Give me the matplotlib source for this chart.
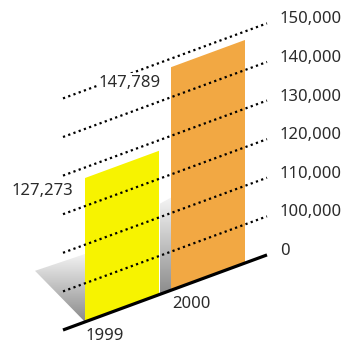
import numpy as np
import matplotlib
matplotlib.use('Agg')
import matplotlib.pyplot as plt
from matplotlib.transforms import Affine2D
from matplotlib.patches import Polygon

# data
years = ['1999', '2000']
values = [127273, 147789]
value_labels = ['127,273', '147,789']
tick_values = [0, 100000, 110000, 120000, 130000, 140000, 150000]
tick_labels = ['0', '100,000', '110,000', '120,000', '130,000', '140,000', '150,000']
colors = ['#f7f300', '#f2a843']

plt.rcParams['font.family'] = ['Noto Sans', 'DejaVu Sans']
txt_col = '#2b2b2b'


def level(v):
    # broken axis: 0 -> 0, 100,000 -> 1, then one step per 10,000
    if v < 100000:
        return v / 100000
    return 1 + (v - 100000) / 10000


fig = plt.figure(figsize=(3.46, 3.42), dpi=100)
ax = fig.add_axes([0, 0, 1, 1])
ax.set_xlim(0, 346)
ax.set_ylim(342, 0)
ax.axis('off')

# skewed front plane: u along the base line, v in levels
plane = Affine2D([[1, 0, 63], [-0.368, -38.6, 330], [0, 0, 1]])
tr = plane + ax.transData

bar_left = [22, 108]
bar_w = 74


def shade(pts, c_top, c_bot):
    pix = plane.transform(pts)
    poly = Polygon(pix, closed=True, facecolor='none', edgecolor='none')
    ax.add_patch(poly)
    x0, y0 = pix.min(axis=0)
    x1, y1 = pix.max(axis=0)
    g = np.linspace(0, 1, 100)[:, None]
    c0 = np.array(matplotlib.colors.to_rgb(c_top))
    c1 = np.array(matplotlib.colors.to_rgb(c_bot))
    img = (c0 * (1 - g) + c1 * g)[:, None, :] * np.ones((1, 2, 1))
    im = ax.imshow(img, extent=(x0, x1, y1, y0), aspect='auto', zorder=1,
                   interpolation='bilinear')
    im.set_clip_path(poly)


# shadows
shade([(-28, 1.8), (22, 1.76), (22, 0.0)], '#f2f2f2', '#8a8a8a')
shade([(97, 2.35), (108, 2.4), (108, 0.0), (97, 0.0)], '#f4f4f4', '#8c8c8c')
ax.set_xlim(0, 346)
ax.set_ylim(342, 0)

# bars
for i, v in enumerate(values):
    h = level(v)
    ax.fill([bar_left[i], bar_left[i] + bar_w, bar_left[i] + bar_w, bar_left[i]],
            [0, 0, h, h], color=colors[i], transform=tr, zorder=2, lw=0)

# grid lines
for t in tick_values[1:]:
    lv = level(t)
    ax.plot([0, 204], [lv, lv], transform=tr, color='black', lw=1.6,
            linestyle=(0, (1, 1.5)), dash_capstyle='butt', zorder=3)
ax.plot([0, 204], [0, 0], transform=tr, color='black', lw=2.3, zorder=4,
        solid_capstyle='butt')

# tick labels
for t, lab in zip(tick_values, tick_labels):
    ax.text(217, level(t) - 0.02, lab, transform=tr, ha='left', va='center',
            fontsize=12, color=txt_col, zorder=5)

# category labels
for i, y in enumerate(years):
    ax.text(bar_left[i] + bar_w / 2 - 17, -0.55, y, transform=tr, ha='center',
            va='center', fontsize=12, color=txt_col, zorder=5)

# value labels
lab_u = [-21, 67]
lab_dv = [0.08, -0.01]
for i, s in enumerate(value_labels):
    ax.text(lab_u[i], level(values[i]) + lab_dv[i], s, transform=tr, ha='center',
            va='center', fontsize=12, color=txt_col, zorder=5,
            bbox=dict(boxstyle='square,pad=0.1', fc='white', ec='none'))

fig.savefig('out.png', dpi=100)
